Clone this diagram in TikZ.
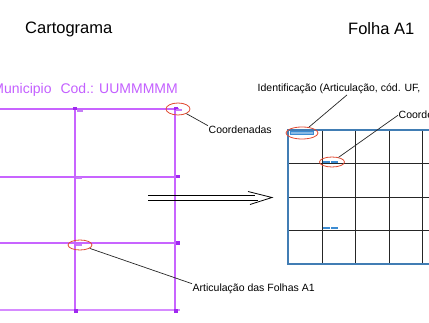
\documentclass[tikz,border=0pt]{standalone}
\usepackage{fontspec}
\setmainfont{Liberation Sans}
\usetikzlibrary{shapes.geometric}

\definecolor{lilac}{RGB}{200,100,255}
\definecolor{lilactext}{RGB}{195,95,255}
\definecolor{violet}{RGB}{160,40,240}
\definecolor{redring}{RGB}{225,75,50}
\definecolor{steel}{RGB}{65,125,180}
\definecolor{markblue}{RGB}{60,140,210}

\tikzstyle{title} = [inner sep = 0pt, anchor = base west, font = \fontsize{16.5}{20}\selectfont]
\tikzstyle{note} = [inner sep = 0.5pt, anchor = base west, font = \fontsize{10.5}{12}\selectfont]
\tikzstyle{ring} = [draw = redring, ellipse, line width = 0.8pt, inner sep = 0pt]
\tikzstyle{leader} = [draw = black!85, line width = 0.7pt]
\tikzstyle{cartoline} = [draw = lilac, line width = 1.3pt]
\tikzstyle{sheetline} = [draw = black!85, line width = 0.8pt]
\tikzstyle{sheetframe} = [draw = steel, line width = 1.1pt]
\tikzstyle{bigarrow} = [draw = black, line width = 0.8pt]

\begin{document}
\begin{tikzpicture}[x = 1pt, y = -1pt]
    \useasboundingbox (0, 0) rectangle (429, 323);

    \node [title] (cartograma) at (25, 34) {Cartograma};
    \node [title] (folha) at (348, 35) {Folha A1};

    \node [anchor = base east, inner sep = 0pt, text = lilactext, font = \fontsize{14}{16}\selectfont]
        (municipio) at (178, 94) {Municipio\hspace{9pt}Cod.: UUMMMMM};

    \foreach \y in {109, 177, 243}
        \draw [cartoline] (0, \y) -- (179, \y);
    \draw [cartoline, draw = lilac!75, line width = 2.2pt] (0, 310) -- (180, 310);
    \foreach \x in {75, 175}
        \draw [cartoline] (\x, 107) -- (\x, 311);

    \foreach \x / \y in {75/108.5, 175.5/108.5, 178/176.5, 178/243, 75.5/311, 176/311}
        \fill [violet] (\x - 2, \y - 1.8) rectangle (\x + 2, \y + 1.8);
    \foreach \x / \y in {79.5/111, 179/110, 79/178, 79/245}
        \fill [violet!60] (\x - 3, \y - 1) rectangle (\x + 3, \y + 1);

    \foreach \x in {322, 355.5, 389, 422.5}
        \draw [sheetline] (\x, 130) -- (\x, 264);
    \foreach \y in {163.5, 197, 230.5}
        \draw [sheetline] (288, \y) -- (429, \y);
    \draw [sheetframe] (429, 130) -- (288, 130) -- (288, 264) -- (429, 264);

    \fill [markblue!60, draw = markblue, line width = 0.4pt] (290.5, 131.5) rectangle (313, 134);
    \foreach \y in {162, 228}
    {
        \fill [markblue] (323, \y - 1.2) rectangle (330, \y + 1.2);
        \fill [markblue] (331, \y - 1.2) rectangle (338, \y + 1.2);
    }

    \node [ring, minimum width = 24pt, minimum height = 12pt] (ringcoord) at (178, 109) {};
    \node [ring, minimum width = 24pt, minimum height = 10pt] (ringartic) at (80, 245) {};
    \node [ring, minimum width = 32pt, minimum height = 12pt] (ringident) at (302, 133) {};
    \node [ring, minimum width = 25pt, minimum height = 10pt] (ringsheet) at (332, 162) {};

    \node [note] (coordenadas) at (208, 134) {Coordenadas};
    \node [note] (articulacao) at (192, 292) {Articulação das Folhas A1};
    \node [note] (identificacao) at (257, 92) {Identificação (Articulação, cód. UF,};
    \node [note] (coordsheet) at (398, 119) {Coordenadas};

    \draw [leader] (ringcoord) -- (coordenadas.north west);
    \draw [leader] (ringartic) -- (articulacao.north west);
    \draw [leader] (ringident) -- ([xshift = 8pt]identificacao.south);
    \draw [leader] (ringsheet) -- (coordsheet.west);

    \coordinate (arrowtail) at (148, 197.5);
    \coordinate (arrowhead) at (272, 197.5);
    \draw [bigarrow] ([yshift = 2.5pt]arrowtail) -- ++(107, 0);
    \draw [bigarrow] ([yshift = -2.5pt]arrowtail) -- ++(110, 0);
    \draw [bigarrow, line join = miter] ([shift = {(-24, -6)}]arrowhead) -- (arrowhead) -- ([shift = {(-22, 7)}]arrowhead);
\end{tikzpicture}
\end{document}
